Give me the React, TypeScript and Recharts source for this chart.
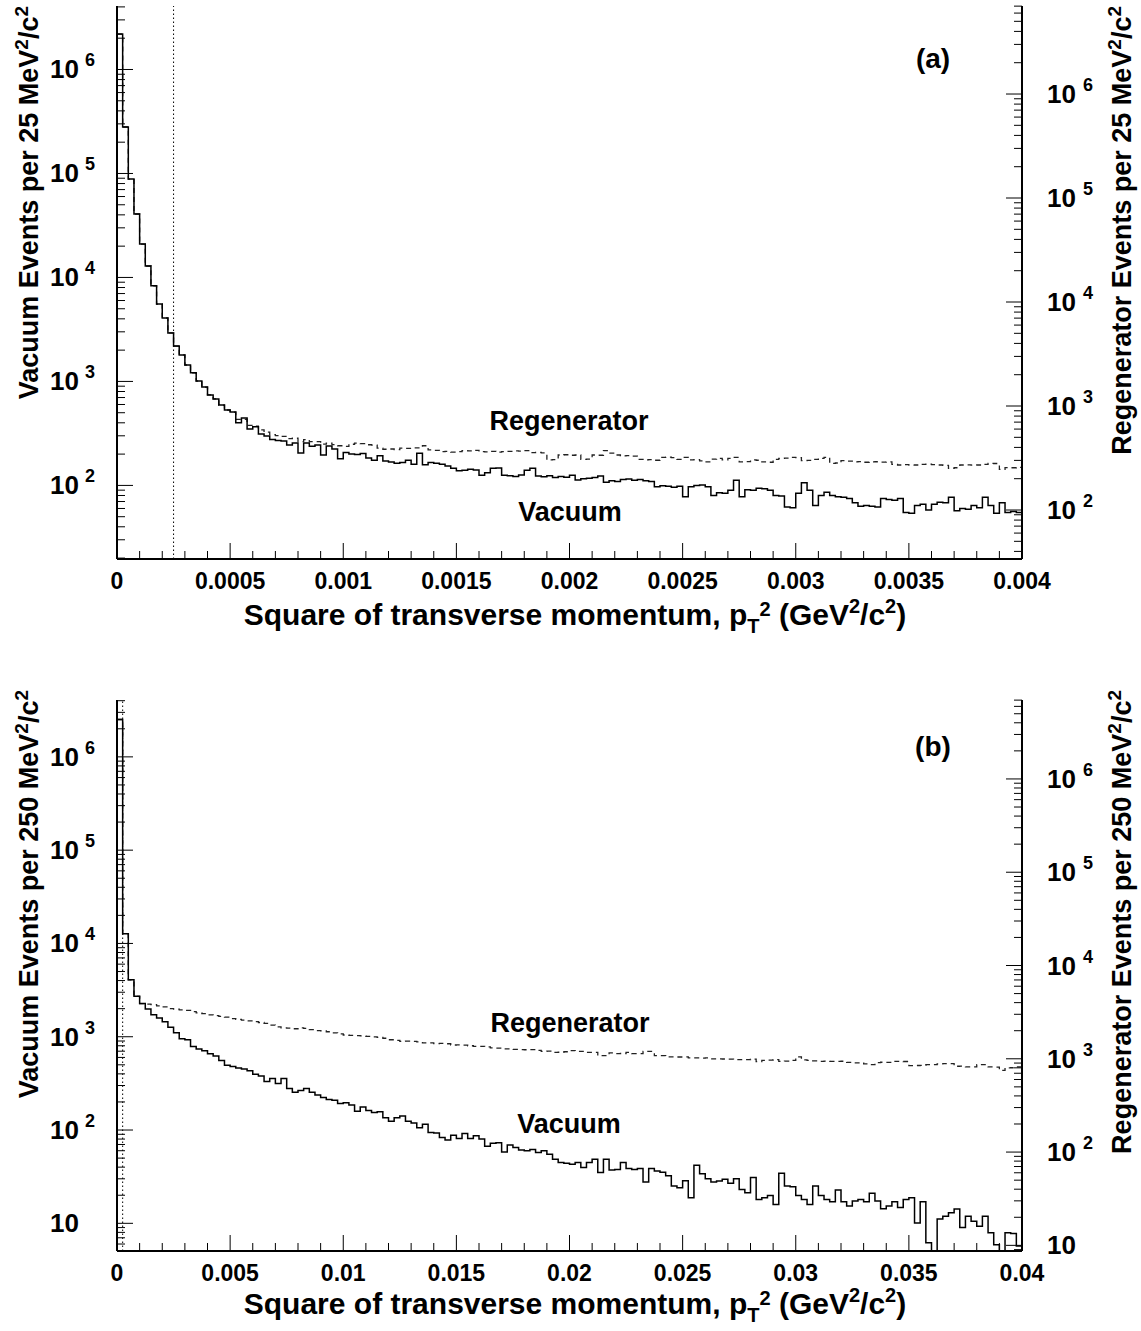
import React from "react";
import { ComposedChart, Line, XAxis, YAxis, ReferenceLine } from "recharts";

const FONT = "'Liberation Sans', Arial, Helvetica, sans-serif";

// panel (a): 25 MeV^2/c^2 bins from 0 to 0.004 GeV^2/c^2
const binWidthA = 0.000025;
const vacuumA = [
  2190000, 280000, 88500, 40800, 21000, 12900, 8300, 5560, 4080, 2930,
  2190, 1800, 1440, 1210, 1010, 886, 742, 679, 594, 532,
  509, 400, 446, 349, 366, 313, 299, 276, 271, 268,
  245, 256, 205, 256, 238, 245, 196, 240, 224, 180,
  207, 201, 198, 203, 183, 175, 193, 172, 168, 163,
  166, 175, 160, 204, 158, 166, 163, 160, 154, 146,
  138, 140, 143, 141, 125, 132, 146, 147, 125, 124,
  122, 126, 140, 146, 123, 121, 124, 119, 122, 120,
  125, 113, 116, 117, 119, 123, 107, 111, 109, 114,
  115, 112, 114, 111, 109, 97, 99, 98, 96, 98,
  78, 97, 100, 101, 97, 80, 85, 84, 90, 112,
  78, 91, 90, 94, 93, 90, 80, 79, 62, 61,
  84, 106, 90, 64, 80, 86, 80, 78, 77, 75,
  68, 63, 64, 63, 62, 75, 73, 72, 75, 55,
  54, 64, 66, 58, 66, 69, 68, 77, 57, 60,
  59, 64, 61, 77, 64, 54, 68, 55, 56, 55,
];
const regenA = [
  3770000, 482000, 152000, 70200, 36100, 22200, 14300, 9560, 7020, 5040,
  3770, 3100, 2480, 2080, 1740, 1520, 1280, 1170, 1020, 915,
  875, 745, 745, 650, 640, 590, 560, 530, 520, 510,
  485, 490, 455, 475, 455, 455, 430, 440, 425, 415,
  410, 429, 440, 435, 424, 421, 393, 384, 386, 381,
  393, 391, 395, 396, 415, 378, 375, 364, 366, 361,
  364, 373, 370, 375, 364, 362, 366, 360, 364, 367,
  370, 368, 372, 356, 358, 354, 303, 305, 338, 340,
  336, 338, 307, 309, 338, 336, 373, 352, 338, 331,
  333, 329, 307, 303, 305, 301, 321, 323, 319, 307,
  321, 303, 305, 297, 290, 308, 314, 303, 314, 321,
  290, 292, 303, 301, 290, 288, 307, 314, 316, 321,
  319, 298, 300, 307, 314, 321, 281, 283, 298, 295,
  290, 292, 288, 290, 291, 289, 290, 275, 271, 273,
  270, 271, 275, 276, 273, 271, 269, 251, 255, 271,
  272, 270, 271, 275, 281, 280, 246, 256, 255, 257,
];

// panel (b): 250 MeV^2/c^2 bins from 0 to 0.04 GeV^2/c^2
const binWidthB = 0.00025;
const vacuumB = [
  2520000, 12700, 4070, 2710, 2270, 1980, 1725, 1585, 1450, 1265,
  1105, 950, 930, 787, 739, 706, 657, 620, 557, 494,
  481, 463, 451, 431, 397, 380, 332, 356, 316, 356,
  278, 254, 266, 278, 254, 237, 223, 212, 209, 193,
  196, 186, 159, 177, 162, 154, 157, 135, 124, 135,
  141, 124, 119, 106, 115, 94, 93, 83, 78, 88,
  81, 92, 81, 87, 80, 67, 72, 73, 58, 69,
  65, 61, 60, 62, 57.5, 60, 55, 48.6, 45, 44,
  43, 45, 39.7, 44.9, 48.6, 35, 48.6, 37.3, 37.8, 44.9,
  38.6, 37.8, 38.6, 27.7, 38.6, 36.4, 35.3, 32.3, 25.1, 24.1,
  28.6, 18.8, 42, 34, 30.1, 27.7, 28.5, 29.6, 26.9, 30.1,
  23.1, 21.3, 31, 18, 18.8, 19.9, 15.9, 34.4, 25.1, 24.6,
  19.9, 18, 15.9, 25.1, 19.9, 18, 17, 22.7, 17, 15.3,
  17.3, 18, 17, 21, 17.3, 14.3, 15.3, 17, 14.8, 18,
  18.8, 10.1, 17, 6.2, 1, 11.1, 11.9, 13, 14.2, 9,
  11.9, 10.5, 9.3, 11.9, 7.9, 5.9, 1, 7.9, 7.8, 5.7,
];
const regenB = [
  4340000, 21800, 7000, 4660, 3900, 3850, 3800, 3700, 3600, 3450,
  3400, 3350, 3300, 3200, 3100, 3050, 2950, 2900, 2850, 2800,
  2700, 2650, 2600, 2550, 2500, 2450, 2400, 2300, 2200, 2150,
  2130, 2100, 2150, 2120, 2050, 2000, 1990, 1950, 1900, 1850,
  1800, 1780, 1775, 1760, 1740, 1720, 1700, 1660, 1600, 1578,
  1540, 1545, 1535, 1520, 1478, 1482, 1455, 1460, 1450, 1405,
  1408, 1402, 1380, 1360, 1362, 1340, 1308, 1300, 1277, 1280,
  1260, 1255, 1250, 1257, 1230, 1203, 1206, 1174, 1176, 1190,
  1225, 1203, 1200, 1174, 1172, 1081, 1083, 1155, 1137, 1139,
  1174, 1137, 1135, 1203, 1200, 1081, 1079, 1047, 1049, 1045,
  1047, 1021, 1023, 1019, 1021, 1000, 997, 995, 990, 980,
  982, 978, 990, 933, 963, 970, 980, 940, 945, 963,
  1047, 975, 963, 950, 940, 942, 938, 940, 941, 915,
  903, 905, 880, 866, 910, 918, 916, 940, 938, 935,
  845, 847, 850, 866, 864, 880, 889, 887, 832, 834,
  818, 820, 866, 864, 818, 816, 753, 800, 802, 818,
];

const xMajorA = [0, 0.0005, 0.001, 0.0015, 0.002, 0.0025, 0.003, 0.0035, 0.004];
const xLabelsA = ["0", "0.0005", "0.001", "0.0015", "0.002", "0.0025", "0.003", "0.0035", "0.004"];
const xMajorB = [0, 0.005, 0.01, 0.015, 0.02, 0.025, 0.03, 0.035, 0.04];
const xLabelsB = ["0", "0.005", "0.01", "0.015", "0.02", "0.025", "0.03", "0.035", "0.04"];

const cutValue = 0.00025;

const leftDomainA: [number, number] = [19.6, 4.08e6];
const rightDomainA: [number, number] = [33.8, 7.02e6];
const leftDomainB: [number, number] = [5.05, 4.07e6];
const rightDomainB: [number, number] = [8.7, 7.02e6];

function buildRows(width: number, vac: number[], reg: number[]) {
  const rows = vac.map((v, i) => ({ x: i * width, vac: v, reg: reg[i] }));
  rows.push({ x: vac.length * width, vac: vac[vac.length - 1], reg: reg[reg.length - 1] });
  return rows;
}

function minorX(majors: number[]) {
  const out: number[] = [];
  for (let i = 0; i < majors.length - 1; i++) {
    const step = (majors[i + 1] - majors[i]) / 5;
    for (let j = 0; j < 5; j++) out.push(majors[i] + j * step);
  }
  out.push(majors[majors.length - 1]);
  return out;
}

function logTicks([lo, hi]: [number, number]) {
  const out: number[] = [];
  for (let e = Math.floor(Math.log10(lo)); e <= Math.ceil(Math.log10(hi)); e++) {
    for (let m = 1; m <= 9; m++) {
      const v = m * Math.pow(10, e);
      if (v >= lo && v <= hi) out.push(v);
    }
  }
  return out;
}

const txt = { fontFamily: FONT, fontWeight: "bold" as const, fill: "#000" };

function makeXTick(majors: number[], labels: string[]) {
  return (props: any) => {
    const { x, y, payload } = props;
    const idx = majors.findIndex((m) => Math.abs(m - payload.value) < 1e-9);
    const major = idx >= 0;
    return (
      <g>
        <line x1={x} x2={x} y1={y} y2={y - (major ? 16 : 8)} stroke="#000" strokeWidth={1} />
        {major && (
          <text x={x} y={y + 30} textAnchor="middle" fontSize={23} {...txt}>
            {labels[idx]}
          </text>
        )}
      </g>
    );
  };
}

function makeYTick(side: "left" | "right") {
  return (props: any) => {
    const { x, y, payload } = props;
    const e = Math.log10(payload.value);
    const major = Math.abs(e - Math.round(e)) < 1e-6;
    const len = major ? 16 : 8;
    const dir = side === "left" ? 1 : -1;
    const exp = Math.round(e);
    return (
      <g>
        <line x1={x} x2={x + dir * len} y1={y} y2={y} stroke="#000" strokeWidth={1} />
        {major && side === "left" && (
          <>
            <text x={x - 38} y={y + 9} textAnchor="end" fontSize={26} {...txt}>10</text>
            {exp !== 1 && (
              <text x={x - 32} y={y - 3} textAnchor="start" fontSize={18} {...txt}>{exp}</text>
            )}
          </>
        )}
        {major && side === "right" && (
          <>
            <text x={x + 25} y={y + 9} textAnchor="start" fontSize={26} {...txt}>10</text>
            {exp !== 1 && (
              <text x={x + 61} y={y - 3} textAnchor="start" fontSize={18} {...txt}>{exp}</text>
            )}
          </>
        )}
      </g>
    );
  };
}

interface PanelProps {
  top: number;
  height: number;
  marginTop: number;
  axisHeight: number;
  rows: { x: number; vac: number; reg: number }[];
  xMax: number;
  majors: number[];
  labels: string[];
  leftDomain: [number, number];
  rightDomain: [number, number];
}

function Panel(p: PanelProps) {
  return (
    <div style={{ position: "absolute", left: 0, top: p.top }}>
      <ComposedChart
        width={1141}
        height={p.height}
        data={p.rows}
        margin={{ top: p.marginTop, right: 0, bottom: 0, left: 0 }}
      >
        <XAxis
          xAxisId="x"
          dataKey="x"
          type="number"
          domain={[0, p.xMax]}
          allowDataOverflow
          ticks={minorX(p.majors)}
          interval={0}
          tickSize={0}
          tickMargin={0}
          tickLine={false}
          tick={makeXTick(p.majors, p.labels)}
          height={p.axisHeight}
          axisLine={{ stroke: "#000", strokeWidth: 2 }}
        />
        <XAxis
          xAxisId="top"
          orientation="top"
          type="number"
          domain={[0, p.xMax]}
          height={0}
          tick={false}
          tickLine={false}
          axisLine={{ stroke: "#000", strokeWidth: 1.5 }}
        />
        <YAxis
          yAxisId="left"
          orientation="left"
          scale="log"
          type="number"
          domain={p.leftDomain}
          allowDataOverflow
          ticks={logTicks(p.leftDomain)}
          interval={0}
          width={117}
          tickSize={0}
          tickMargin={0}
          tickLine={false}
          tick={makeYTick("left")}
          axisLine={{ stroke: "#000", strokeWidth: 2 }}
        />
        <YAxis
          yAxisId="right"
          orientation="right"
          scale="log"
          type="number"
          domain={p.rightDomain}
          allowDataOverflow
          ticks={logTicks(p.rightDomain)}
          interval={0}
          width={119}
          tickSize={0}
          tickMargin={0}
          tickLine={false}
          tick={makeYTick("right")}
          axisLine={{ stroke: "#000", strokeWidth: 2 }}
        />
        <ReferenceLine
          xAxisId="x"
          yAxisId="left"
          x={cutValue}
          stroke="#000"
          strokeWidth={1}
          strokeDasharray="1.5 2.5"
        />
        <Line
          xAxisId="x"
          yAxisId="right"
          dataKey="reg"
          type="stepAfter"
          stroke="#222"
          strokeWidth={1.3}
          strokeDasharray="5 4"
          dot={false}
          activeDot={false}
          isAnimationActive={false}
        />
        <Line
          xAxisId="x"
          yAxisId="left"
          dataKey="vac"
          type="stepAfter"
          stroke="#000"
          strokeWidth={1.5}
          dot={false}
          activeDot={false}
          isAnimationActive={false}
        />
      </ComposedChart>
    </div>
  );
}

function XTitle({ y }: { y: number }) {
  return (
    <text x={575} y={y} textAnchor="middle" fontSize={30} {...txt}>
      Square of transverse momentum, p
      <tspan dy={8} fontSize={20}>T</tspan>
      <tspan dy={-17} fontSize={20}>2</tspan>
      <tspan dy={9}> (GeV</tspan>
      <tspan dy={-12} fontSize={20}>2</tspan>
      <tspan dy={12}>/c</tspan>
      <tspan dy={-12} fontSize={20}>2</tspan>
      <tspan dy={12}>)</tspan>
    </text>
  );
}

function YTitle({ x, y, text }: { x: number; y: number; text: string }) {
  return (
    <text transform={`translate(${x},${y}) rotate(-90)`} textAnchor="end" fontSize={27} {...txt}>
      {text}
      <tspan dy={-10} fontSize={19}>2</tspan>
      <tspan dy={10}>/c</tspan>
      <tspan dy={-10} fontSize={19}>2</tspan>
    </text>
  );
}

export default function App() {
  const rowsA = buildRows(binWidthA, vacuumA, regenA);
  const rowsB = buildRows(binWidthB, vacuumB, regenB);
  return (
    <div style={{ position: "absolute", left: 0, top: 0, width: 1141, height: 1331, background: "#fff" }}>
      <Panel
        top={0}
        height={665}
        marginTop={6}
        axisHeight={106}
        rows={rowsA}
        xMax={0.004}
        majors={xMajorA}
        labels={xLabelsA}
        leftDomain={leftDomainA}
        rightDomain={rightDomainA}
      />
      <Panel
        top={665}
        height={666}
        marginTop={35}
        axisHeight={80}
        rows={rowsB}
        xMax={0.04}
        majors={xMajorB}
        labels={xLabelsB}
        leftDomain={leftDomainB}
        rightDomain={rightDomainB}
      />
      <svg
        width={1141}
        height={1331}
        style={{ position: "absolute", left: 0, top: 0, pointerEvents: "none" }}
      >
        <XTitle y={625} />
        <XTitle y={1314} />
        <YTitle x={38} y={6} text="Vacuum Events per 25 MeV" />
        <YTitle x={1131} y={6} text="Regenerator Events per 25 MeV" />
        <YTitle x={38} y={690} text="Vacuum Events per 250 MeV" />
        <YTitle x={1131} y={690} text="Regenerator Events per 250 MeV" />
        <text x={933} y={68} textAnchor="middle" fontSize={28} {...txt}>(a)</text>
        <text x={933} y={756} textAnchor="middle" fontSize={28} {...txt}>(b)</text>
        <text x={569} y={430} textAnchor="middle" fontSize={27} {...txt}>Regenerator</text>
        <text x={570} y={521} textAnchor="middle" fontSize={27} {...txt}>Vacuum</text>
        <text x={570} y={1032} textAnchor="middle" fontSize={27} {...txt}>Regenerator</text>
        <text x={569} y={1133} textAnchor="middle" fontSize={27} {...txt}>Vacuum</text>
      </svg>
    </div>
  );
}
